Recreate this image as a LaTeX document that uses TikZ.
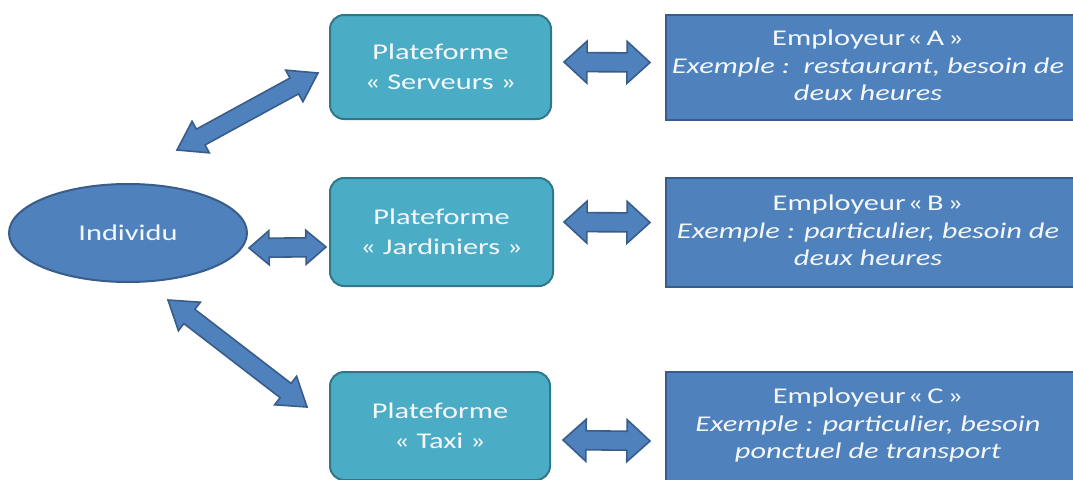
\documentclass[tikz,border=0pt]{standalone}
\usepackage{fontspec}
\setmainfont{Carlito}[FakeStretch=1.35]
\usetikzlibrary{calc,shapes.geometric}
\definecolor{platfill}{HTML}{4BACC6}
\definecolor{platline}{HTML}{31778A}
\definecolor{empfill}{HTML}{4F81BD}
\definecolor{empline}{HTML}{385D8A}
\definecolor{txt}{HTML}{F4F8FC}
\tikzset{
  plat/.style={draw=platline, fill=platfill, line width=2pt, rounded corners=14pt,
    text=txt, align=center, font=\fontsize{22.5}{30}\selectfont, inner sep=0pt},
  empbox/.style={draw=empline, fill=empfill, line width=2pt, inner sep=0pt},
  emptext/.style={text=txt, align=center, font=\fontsize{22.5}{27.5}\selectfont},
  indiv/.style={ellipse, draw=empline, fill=empfill, line width=2pt, text=txt,
    font=\fontsize{22.5}{26}\selectfont, inner sep=0pt},
  blockarrow/.style={draw=empline, fill=empfill, line width=1.6pt, line join=miter},
}
\newcommand{\emplname}[1]{Employeur\kern2pt«\kern4pt#1\kern4pt»}
% \barrow{from}{to}{head length}{head half width}{shaft half width}
\newcommand{\barrow}[5]{%
  \path let \p1=(#1), \p2=(#2), \n1={veclen(\x2-\x1,\y2-\y1)}, \n2={atan2(\y2-\y1,\x2-\x1)} in
    \pgfextra{\xdef\arrlen{\n1}\xdef\arrang{\n2}};
  \begin{scope}[shift={(#1)}, rotate=\arrang]
    \draw[blockarrow] (0,0) -- (#3,#4) -- (#3,#5) -- (\arrlen-#3,#5) -- (\arrlen-#3,#4)
      -- (\arrlen,0) -- (\arrlen-#3,-#4) -- (\arrlen-#3,-#5) -- (#3,-#5) -- (#3,-#4) -- cycle;
  \end{scope}}
\begin{document}
\begin{tikzpicture}[x=1pt, y=-1pt]
\useasboundingbox (0,0) rectangle (1073,479);
\fill[white] (0,0) rectangle (1073,479);

% nodes
\node[indiv, minimum width=238pt, minimum height=98pt] (ind) at (128,233) {Individu};
\node[plat, minimum width=221pt, minimum height=104pt] (ps) at (440.5,67) {Plateforme\\« Serveurs »};
\node[plat, minimum width=223pt, minimum height=108pt] (pj) at (441.5,232) {Plateforme\\« Jardiniers »};
\node[plat, minimum width=220pt, minimum height=108pt] (pt) at (440,426) {Plateforme\\« Taxi »};

\node[empbox, minimum width=414pt, minimum height=105pt,
  label={[emptext, xshift=-5pt, yshift=2pt]center:\emplname{A}\\\textit{Exemple :\ \ restaurant, besoin de}\\\textit{deux heures}}]
  (ea) at (873,67.5) {};
\node[empbox, minimum width=414pt, minimum height=109pt,
  label={[emptext, xshift=-5pt, yshift=2pt]center:\emplname{B}\\\textit{Exemple : particulier, besoin de}\\\textit{deux heures}}]
  (eb) at (873,232.5) {};
\node[empbox, minimum width=414pt, minimum height=110pt,
  label={[emptext, xshift=-5pt, yshift=2pt]center:\emplname{C}\\\textit{Exemple : particulier, besoin}\\\textit{ponctuel de transport}}]
  (ec) at (873,427) {};

% arrow end points
\coordinate (s1) at (177,150);
\coordinate (s2) at (318,73);
\coordinate (j1) at ($(ind.east)+(1,15)$);
\coordinate (j2) at ($(pj.west)+(-3,15)$);
\coordinate (t1) at (168,300);
\coordinate (t2) at (307,407);
\coordinate (a1) at ($(ps.east)+(12,-5)$);
\coordinate (a2) at ($(ea.west)+(-15,-5)$);
\coordinate (b1) at ($(pj.east)+(10,-10)$);
\coordinate (b2) at ($(eb.west)+(-15,-10)$);
\coordinate (c1) at ($(pt.east)+(12,14)$);
\coordinate (c2) at ($(ec.west)+(-15,14)$);

\barrow{s1}{s2}{27}{18}{9}
\barrow{j1}{j2}{20}{17}{9.5}
\barrow{t1}{t2}{27}{18}{9}
\barrow{a1}{a2}{23}{21}{9.5}
\barrow{b1}{b2}{23}{21}{9.5}
\barrow{c1}{c2}{23}{21}{9.5}
\end{tikzpicture}
\end{document}
